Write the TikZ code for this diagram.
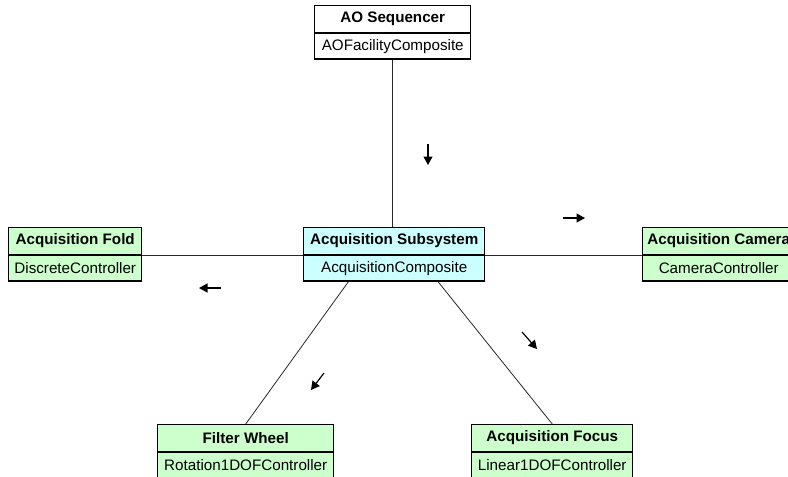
\documentclass[tikz,border=0pt]{standalone}
\usepackage{fontspec}
\setmainfont{Liberation Sans}
\usetikzlibrary{arrows.meta}
\def\px{0.75pt}
\definecolor{boxgreen}{RGB}{204,255,204}
\definecolor{boxcyan}{RGB}{204,255,255}
\definecolor{linegray}{RGB}{40,40,40}
\tikzset{
  namebox/.style={draw=black, line width=1.1pt, inner sep=0pt, minimum height=26.5*\px,
    font=\fontsize{11.4}{13}\selectfont\bfseries, text=black},
  typebox/.style={draw=black, line width=1.1pt, inner sep=0pt, minimum height=25.5*\px,
    font=\fontsize{11.4}{13}\selectfont, text=black},
  conn/.style={draw=linegray, line width=0.6pt},
  dirarrow/.style={draw=black, line width=0.9pt, -{Triangle[length=8.5*\px, width=9*\px]}},
}
\begin{document}
\begin{tikzpicture}[x=0.75pt, y=-0.75pt]
\useasboundingbox (0,0) rectangle (788,476);
% coordinates of direction arrows
\coordinate (a1s) at (428,144);  \coordinate (a1e) at (428,165);
\coordinate (a2s) at (563,218);  \coordinate (a2e) at (585,218);
\coordinate (a3s) at (221,288);  \coordinate (a3e) at (199,288);
\coordinate (a4s) at (324,373);  \coordinate (a4e) at (311,390);
\coordinate (a5s) at (522,332);  \coordinate (a5e) at (537,349);

% AO Sequencer
\node[namebox, fill=white, minimum width=156*\px, anchor=north west] (ao) at (314,5) {AO Sequencer};
\node[typebox, fill=white, minimum width=156*\px, anchor=north] (aoT) at (ao.south) {AOFacilityComposite};
% Acquisition Subsystem
\node[namebox, fill=boxcyan, minimum width=181*\px, anchor=north west] (sub) at (303,227) {Acquisition Subsystem};
\node[typebox, fill=boxcyan, minimum width=181*\px, anchor=north] (subT) at (sub.south) {AcquisitionComposite};
% Acquisition Fold
\node[namebox, fill=boxgreen, minimum width=133*\px, anchor=north west] (fold) at (8,227) {Acquisition Fold};
\node[typebox, fill=boxgreen, minimum width=133*\px, anchor=north] (foldT) at (fold.south) {DiscreteController};
% Acquisition Camera
\node[namebox, fill=boxgreen, minimum width=152*\px, anchor=north west] (cam) at (642,227) {Acquisition Camera};
\node[typebox, fill=boxgreen, minimum width=152*\px, anchor=north] (camT) at (cam.south) {CameraController};
% Filter Wheel
\node[namebox, fill=boxgreen, minimum width=176*\px, anchor=north west] (fw) at (157,424) {Filter Wheel};
\node[typebox, fill=boxgreen, minimum width=176*\px, anchor=north] (fwT) at (fw.south) {Rotation1DOFController};
% Acquisition Focus
\node[namebox, fill=boxgreen, minimum width=161*\px, anchor=north west] (foc) at (471,424) {Acquisition Focus};
\node[typebox, fill=boxgreen, minimum width=161*\px, anchor=north] (focT) at (foc.south) {Linear1DOFController};

% connectors
\draw[conn] (aoT.south) -- (aoT.south |- sub.north);
\draw[conn] (fold.south east) -- (sub.south west);
\draw[conn] (sub.south east) -- (cam.south west);
\draw[conn] ([xshift=-46*\px]subT.south) -- (fw.north);
\draw[conn] ([xshift=44*\px]subT.south) -- (foc.north);

% direction arrows
\draw[dirarrow] (a1s) -- (a1e);
\draw[dirarrow] (a2s) -- (a2e);
\draw[dirarrow] (a3s) -- (a3e);
\draw[dirarrow] (a4s) -- (a4e);
\draw[dirarrow] (a5s) -- (a5e);
\end{tikzpicture}
\end{document}
